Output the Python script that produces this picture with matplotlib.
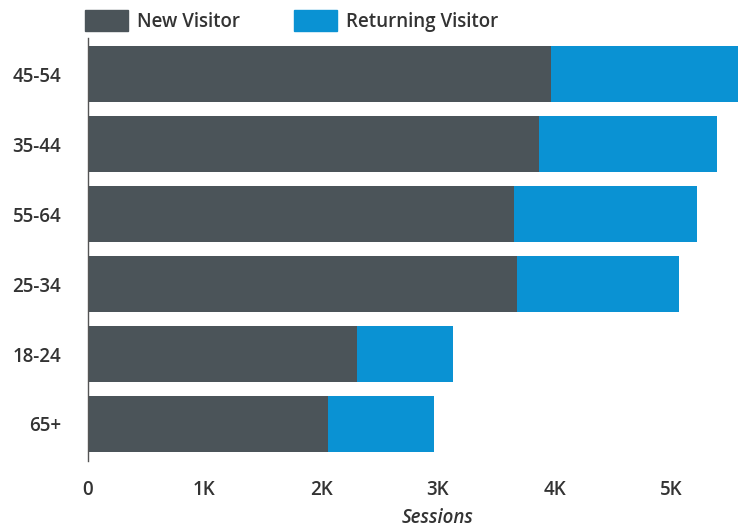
import matplotlib
matplotlib.use("Agg")
import matplotlib.pyplot as plt
import numpy as np
from matplotlib.patches import Patch

AGE_GROUPS = ["45-54", "35-44", "55-64", "25-34", "18-24", "65+"]
NEW_VISITOR = [3970, 3870, 3650, 3680, 2310, 2060]
RETURNING_VISITOR = [1750, 1520, 1570, 1390, 820, 910]
X_TICKS = [0, 1000, 2000, 3000, 4000, 5000]
X_TICK_LABELS = ["0", "1K", "2K", "3K", "4K", "5K"]

GRAY = "#4b5459"
BLUE = "#0a92d3"
TEXT = "#333333"


def main() -> None:
    plt.rcParams["font.family"] = ["Open Sans", "DejaVu Sans"]

    fig = plt.figure(figsize=(7.38, 5.32), dpi=100)
    ax = fig.add_axes([87.7 / 738, 71 / 532, 1 - 87.7 / 738, 423 / 532])

    y = np.arange(len(AGE_GROUPS))
    new = np.array(NEW_VISITOR, dtype=float)
    ret = np.array(RETURNING_VISITOR, dtype=float)

    ax.barh(y, new, height=0.8, color=GRAY, label="New Visitor")
    ax.barh(y, ret, left=new, height=0.8, color=BLUE, label="Returning Visitor")

    ax.set_ylim(5.53, -0.52)
    ax.set_xlim(0, (738 - 87.7) / 116.7 * 1000)

    for s in ["top", "right", "bottom"]:
        ax.spines[s].set_visible(False)
    ax.spines["left"].set_color("#555555")
    ax.spines["left"].set_linewidth(1.0)

    ax.set_yticks(y)
    ax.set_yticklabels(AGE_GROUPS, fontsize=13.5, color=TEXT, fontweight="semibold")
    ax.set_xticks(X_TICKS)
    ax.set_xticklabels(X_TICK_LABELS, fontsize=13.5, color=TEXT, fontweight="semibold")
    ax.tick_params(axis="both", length=0)
    ax.tick_params(axis="y", pad=19)
    ax.tick_params(axis="x", pad=14)

    ax.set_xlabel("Sessions", fontsize=13.5, color=TEXT, style="italic", fontweight="semibold")
    ax.xaxis.label.set_va("center")
    ax.xaxis.set_label_coords((438 - 87.7) / (738 - 87.7), (461 - 518) / 423)

    handles = [Patch(color=GRAY, label="New Visitor"),
               Patch(color=BLUE, label="Returning Visitor")]
    fig.legend(handles=handles, loc="upper left", bbox_to_anchor=(68 / 738, 1.012),
               ncol=2, frameon=False, handlelength=2.3, handleheight=1.3,
               handletextpad=0.5, columnspacing=2.85, labelcolor=TEXT,
               prop={"family": ["Open Sans", "DejaVu Sans"], "weight": "semibold", "size": 13.5})

    fig.savefig("out.png", dpi=100)
    plt.close(fig)


if __name__ == "__main__":
    main()
